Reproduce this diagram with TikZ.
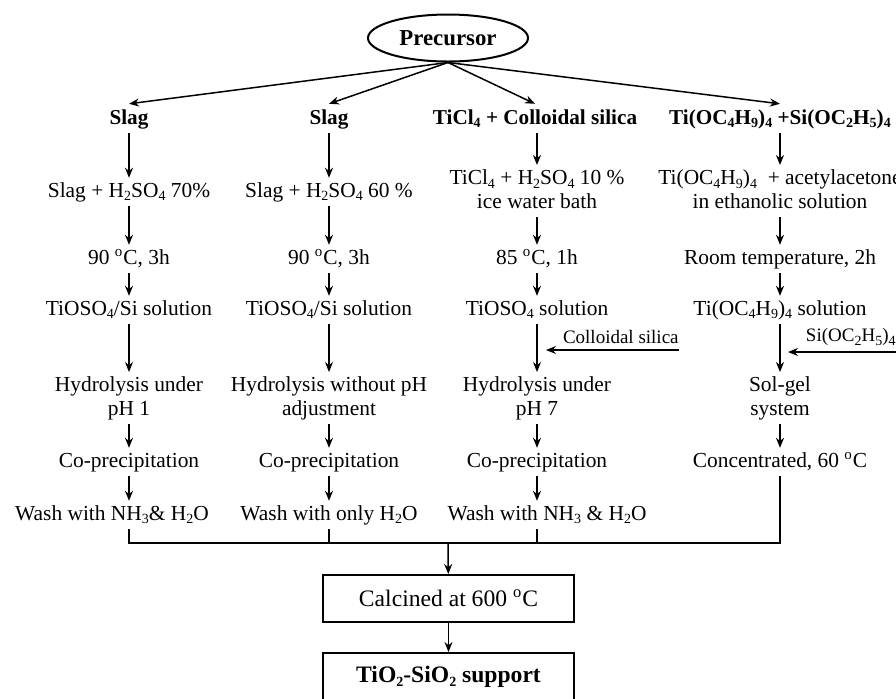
\documentclass[tikz,border=0pt]{standalone}
\usepackage{fontspec}
\setmainfont{Liberation Serif}
\usetikzlibrary{shapes.geometric, arrows.meta, calc, positioning}
\tikzstyle{startstop} = [ellipse, line width=1pt, minimum width=80pt, minimum height=23.5pt, inner sep=0pt, font=\fontsize{11.4}{13}\selectfont\bfseries, draw=black]
\tikzstyle{source} = [inner ysep=2pt, inner xsep=0pt, font=\fontsize{10.6}{12}\selectfont\bfseries, text height=7.9pt, text depth=2.5pt]
\tikzstyle{process} = [align=center, inner ysep=2pt, inner xsep=0pt, font=\fontsize{10.7}{11.9}\selectfont, text height=7.4pt, text depth=2.3pt]
\tikzstyle{process2} = [process, text height=19.3pt]
\tikzstyle{feed} = [inner xsep=0pt, inner ysep=3pt, font=\fontsize{9.5}{11}\selectfont]
\tikzstyle{final} = [rectangle, line width=1pt, minimum width=125.5pt, minimum height=23.5pt, font=\fontsize{11.8}{13}\selectfont, draw=black]
\tikzstyle{arrow} = [line width=0.75pt, -{Stealth[length=5pt,width=4pt]}]
\tikzstyle{joint} = [line width=0.75pt]
\newcommand{\dC}{\textsuperscript{o}C}
\newcommand{\sub}[1]{\raisebox{-0.4ex}{\scriptsize #1}}
\begin{document}
\begin{tikzpicture}[x=0.5pt, y=-0.5pt]
	\useasboundingbox (0,0) rectangle (896,698);
	\node (Precursor) [startstop] at (448,38) {Precursor};

	\node (Slag01) [source, anchor=base] at (129,124) {Slag};
	\node (Slag02) [source, anchor=base] at (329,124) {Slag};
	\node (Colloid03) [source, anchor=base] at (535,124) {TiCl\sub{4} + Colloidal silica};
	\node (Alkoxide04) [source, anchor=base] at (780,124) {Ti(OC\sub{4}H\sub{9})\sub{4} +Si(OC\sub{2}H\sub{5})\sub{4}};

	\node (Mix01) [process, anchor=base] at (129,197) {Slag + H\sub{2}SO\sub{4} 70\%};
	\node (Mix02) [process, anchor=base] at (329,197) {Slag + H\sub{2}SO\sub{4} 60 \%};
	\node (Mix03) [process2, anchor=base] at (537,208) {TiCl\sub{4} + H\sub{2}SO\sub{4} 10 \%\\ice water bath};
	\node (Mix04) [process2, anchor=base] at (780,208) {Ti(OC\sub{4}H\sub{9})\sub{4}\ \ + acetylacetone\\in ethanolic solution};

	\node (Heat01) [process, anchor=base] at (129,264) {90 \dC, 3h};
	\node (Heat02) [process, anchor=base] at (329,264) {90 \dC, 3h};
	\node (Heat03) [process, anchor=base] at (537,264) {85 \dC, 1h};
	\node (Heat04) [process, anchor=base] at (780,264) {Room temperature, 2h};

	\node (Solution01) [process, anchor=base] at (129,315) {TiOSO\sub{4}/Si solution};
	\node (Solution02) [process, anchor=base] at (329,315) {TiOSO\sub{4}/Si solution};
	\node (Solution03) [process, anchor=base] at (537,315) {TiOSO\sub{4} solution};
	\node (Solution04) [process, anchor=base] at (780,315) {Ti(OC\sub{4}H\sub{9})\sub{4}\ solution};

	\node (Hydrolysis01) [process2, anchor=base] at (129,415) {Hydrolysis under\\pH 1};
	\node (Hydrolysis02) [process2, anchor=base] at (329,415) {Hydrolysis without pH\\adjustment};
	\node (Hydrolysis03) [process2, anchor=base] at (537,415) {Hydrolysis under\\pH 7};
	\node (SolGel04) [process2, anchor=base] at (780,415) {Sol-gel\\system};

	\node (Coprec01) [process, anchor=base] at (129,467) {Co-precipitation};
	\node (Coprec02) [process, anchor=base] at (329,467) {Co-precipitation};
	\node (Coprec03) [process, anchor=base] at (537,467) {Co-precipitation};
	\node (Concentrate04) [process, anchor=base] at (780,467) {Concentrated, 60 \dC};

	\node (Wash01) [process, anchor=base] at (112,520) {Wash with NH\sub{3}\& H\sub{2}O};
	\node (Wash02) [process, anchor=base] at (329,520) {Wash with only H\sub{2}O};
	\node (Wash03) [process, anchor=base] at (547,520) {Wash with NH\sub{3} \& H\sub{2}O};

	\coordinate (SilicaIn) at (679,350);
	\coordinate (SilicaTip) at (546,350);
	\coordinate (TeosIn) at (896,352);
	\coordinate (TeosTip) at (788,352);
	\node (Silica) [feed, anchor=south east] at (SilicaIn) {Colloidal silica};
	\node (Teos) [feed, anchor=south east] at (TeosIn) {Si(OC\sub{2}H\sub{5})\sub{4}};

	\coordinate (Merge) at (448,543);
	\node (Calcined) [final] at (448.5,598.5) {Calcined at 600 \dC};
	\node (Support) [final, font=\fontsize{11.8}{13}\selectfont\bfseries] at (448.5,676.5) {TiO\sub{2}-SiO\sub{2} support};

	\draw [arrow] (Precursor.south) -- (Slag01.north);
	\draw [arrow] (Precursor.south) -- (Slag02.north);
	\draw [arrow] (Precursor.south) -- (Colloid03.north);
	\draw [arrow] (Precursor.south) -- (Alkoxide04.north);

	\foreach \a/\b/\c/\d/\e/\f in {Slag01/Mix01/Heat01/Solution01/Hydrolysis01/Coprec01,
			Slag02/Mix02/Heat02/Solution02/Hydrolysis02/Coprec02,
			Colloid03/Mix03/Heat03/Solution03/Hydrolysis03/Coprec03,
			Alkoxide04/Mix04/Heat04/Solution04/SolGel04/Concentrate04}{
		\draw [arrow] (\a.south -| \b) -- (\b);
		\draw [arrow] (\b) -- (\c);
		\draw [arrow] (\c) -- (\d);
		\draw [arrow] (\d) -- (\e);
		\draw [arrow] (\e) -- (\f);
	}
	\draw [arrow] (Coprec01) -- (Coprec01 |- Wash01.north);
	\draw [arrow] (Coprec02) -- (Wash02);
	\draw [arrow] (Coprec03) -- (Coprec03 |- Wash03.north);

	\draw [arrow] (SilicaIn) -- (SilicaTip);
	\draw [arrow] (TeosIn) -- (TeosTip);

	\draw [joint] (Wash01.south -| Coprec01) |- (Merge);
	\draw [joint] (Wash02) |- (Merge);
	\draw [joint] (Wash03.south -| Coprec03) |- (Merge);
	\draw [joint] (Concentrate04) |- (Merge);
	\draw [arrow] (Merge) -- (Calcined);
	\draw [arrow] (Calcined) -- (Support);
\end{tikzpicture}
\end{document}
